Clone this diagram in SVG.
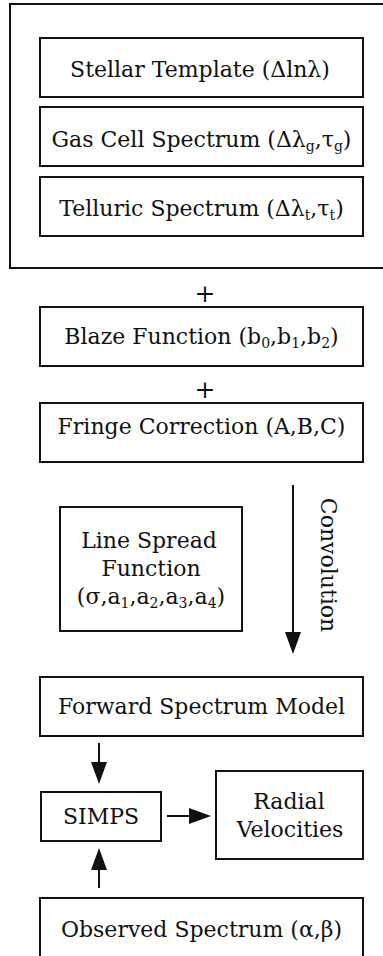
<svg xmlns="http://www.w3.org/2000/svg" width="383" height="956" viewBox="0 0 383 956">
  <style>
    .box { fill: #ffffff; stroke: #111111; stroke-width: 2; }
    .lbl { font-family: "DejaVu Serif", "Liberation Serif", serif; font-size: 22px; fill: #111111; text-anchor: middle; }
    .sub { font-size: 14px; }
    .plus { font-size: 25px; }
    .wire { fill: none; stroke: #111111; stroke-width: 2; }
  </style>
  <defs>
    <marker id="head" markerUnits="userSpaceOnUse" markerWidth="24" markerHeight="20" viewBox="0 -10 24 20" refX="0" refY="0" orient="auto">
      <path d="M0,-8 L22,0 L0,8 z" fill="#111111"/>
    </marker>
  </defs>
  <rect width="383" height="956" fill="#ffffff"/>

  <!-- spectral components container -->
  <g id="components">
    <rect class="box" x="10" y="4" width="380" height="264"/>
  </g>
  <g id="stellar-template">
    <rect class="box" x="40" y="38" width="323" height="59"/>
    <text class="lbl" x="200" y="76.5">Stellar Template (Δlnλ)</text>
  </g>
  <g id="gas-cell">
    <rect class="box" x="40" y="107" width="323" height="59"/>
    <text class="lbl" x="201.5" y="146.5">Gas Cell Spectrum (Δλ<tspan class="sub" dy="4">g</tspan><tspan dy="-4">,τ</tspan><tspan class="sub" dy="4">g</tspan><tspan dy="-4">)</tspan></text>
  </g>
  <g id="telluric">
    <rect class="box" x="40" y="177" width="323" height="59"/>
    <text class="lbl" x="201.5" y="215.5">Telluric Spectrum (Δλ<tspan class="sub" dy="4">t</tspan><tspan dy="-4">,τ</tspan><tspan class="sub" dy="4">t</tspan><tspan dy="-4">)</tspan></text>
  </g>

  <text class="lbl plus" x="205" y="301.5">+</text>
  <g id="blaze">
    <rect class="box" x="40" y="307" width="323" height="59"/>
    <text class="lbl" x="201.5" y="343.5">Blaze Function (b<tspan class="sub" dy="4">0</tspan><tspan dy="-4">,b</tspan><tspan class="sub" dy="4">1</tspan><tspan dy="-4">,b</tspan><tspan class="sub" dy="4">2</tspan><tspan dy="-4">)</tspan></text>
  </g>
  <text class="lbl plus" x="205" y="397.5">+</text>
  <g id="fringe">
    <rect class="box" x="40" y="403" width="323" height="59"/>
    <text class="lbl" x="201.5" y="433.5">Fringe Correction (A,B,C)</text>
  </g>

  <g id="line-spread">
    <rect class="box" x="60" y="507" width="182" height="124"/>
    <text class="lbl" x="149" y="548">Line Spread</text>
    <text class="lbl" x="151" y="576">Function</text>
    <text class="lbl" x="151" y="604">(σ,a<tspan class="sub" dy="4">1</tspan><tspan dy="-4">,a</tspan><tspan class="sub" dy="4">2</tspan><tspan dy="-4">,a</tspan><tspan class="sub" dy="4">3</tspan><tspan dy="-4">,a</tspan><tspan class="sub" dy="4">4</tspan><tspan dy="-4">)</tspan></text>
  </g>

  <g id="forward-model">
    <rect class="box" x="40" y="677" width="323" height="59"/>
    <text class="lbl" x="201.5" y="713.5">Forward Spectrum Model</text>
  </g>
  <g id="simps">
    <rect class="box" x="41" y="792" width="120" height="49"/>
    <text class="lbl" x="101" y="823.5">SIMPS</text>
  </g>
  <g id="radial-velocities">
    <rect class="box" x="216" y="771" width="147" height="88"/>
    <text class="lbl" x="289" y="809">Radial</text>
    <text class="lbl" x="290" y="837">Velocities</text>
  </g>
  <g id="observed">
    <rect class="box" x="40" y="898" width="323" height="80"/>
    <text class="lbl" x="201.5" y="936.5">Observed Spectrum (α,β)</text>
  </g>

  <g id="connectors">
    <path class="wire" d="M293,485 V632" marker-end="url(#head)"/>
    <text class="lbl" transform="translate(321,565) rotate(90)">Convolution</text>
    <path class="wire" d="M99,743 V762" marker-end="url(#head)"/>
    <path class="wire" d="M167,816 H189" marker-end="url(#head)"/>
    <path class="wire" d="M99,888 V870" marker-end="url(#head)"/>
  </g>
</svg>
